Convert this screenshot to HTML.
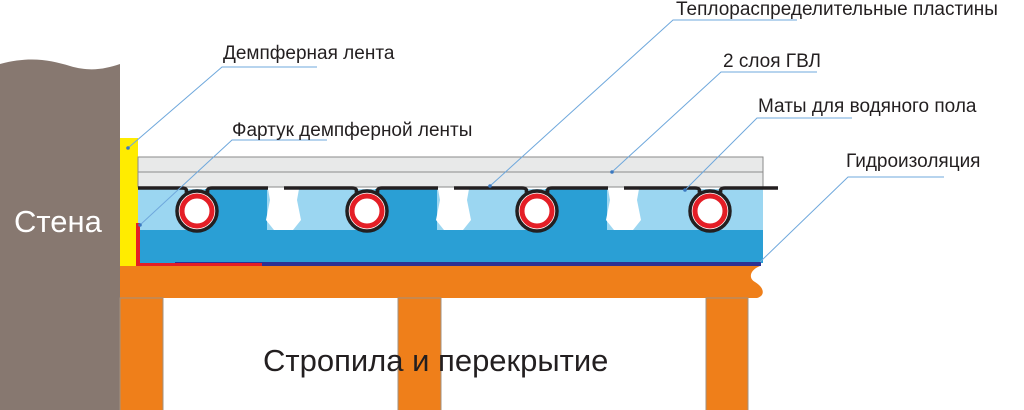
<!DOCTYPE html>
<html><head><meta charset="utf-8"><style>
html,body{margin:0;padding:0;background:#fff;width:1024px;height:410px;overflow:hidden}
svg{display:block}
text{font-family:"Liberation Sans",sans-serif;fill:#231f20}
</style></head><body>
<svg width="1024" height="410" viewBox="0 0 1024 410" xmlns="http://www.w3.org/2000/svg">
<path d="M0,64 C30,56 50,60 70,66 C90,72 105,69 120,64 L120,410 L0,410 Z" fill="#877870"/>
<text x="14" y="232" font-size="31" style="fill:#fff">Стена</text>
<rect x="120" y="138" width="18" height="130" fill="#ffec00"/>
<rect x="138" y="157" width="625" height="30" fill="#e8e9e9" stroke="#8a8a8a" stroke-width="1"/>
<line x1="138" y1="172" x2="763" y2="172" stroke="#8a8a8a" stroke-width="1"/>
<rect x="138" y="189" width="625" height="42" fill="#9bd6f1"/>
<g fill="#2a9fd5">
<rect x="205" y="189" width="62" height="42"/>
<rect x="375" y="189" width="62" height="42"/>
<rect x="545" y="189" width="62" height="42"/>
<rect x="138" y="230" width="625" height="33"/>
</g>
<g fill="#fff">
<path d="M268,189 L299,189 L297,200 L301,220 L293,230 L274,230 L266,220 L270,200 Z"/>
<path d="M438,189 L469,189 L467,200 L471,220 L463,230 L444,230 L436,220 L440,200 Z"/>
<path d="M608,189 L639,189 L637,200 L641,220 L633,230 L614,230 L606,220 L610,200 Z"/>
</g>
<g stroke="#231f20" stroke-width="3.5" fill="none">
<path d="M138,188 L182,188 Q188,188 186,193"/>
<path d="M208,193 Q206,188 212,188 L268,188"/>
<path d="M284,188 L352,188 Q358,188 356,193"/>
<path d="M378,193 Q376,188 382,188 L438,188"/>
<path d="M454,188 L522,188 Q528,188 526,193"/>
<path d="M548,193 Q546,188 552,188 L608,188"/>
<path d="M624,188 L695,188 Q701,188 699,193"/>
<path d="M721,193 Q719,188 725,188 L778,188"/>
</g>
<g>
<circle cx="197" cy="211" r="20" fill="#fff" stroke="#231f20" stroke-width="3.5"/>
<circle cx="197" cy="211" r="15" fill="#fff" stroke="#e41e26" stroke-width="5"/>
<circle cx="367" cy="211" r="20" fill="#fff" stroke="#231f20" stroke-width="3.5"/>
<circle cx="367" cy="211" r="15" fill="#fff" stroke="#e41e26" stroke-width="5"/>
<circle cx="537" cy="211" r="20" fill="#fff" stroke="#231f20" stroke-width="3.5"/>
<circle cx="537" cy="211" r="15" fill="#fff" stroke="#e41e26" stroke-width="5"/>
<circle cx="710" cy="211" r="20" fill="#fff" stroke="#231f20" stroke-width="3.5"/>
<circle cx="710" cy="211" r="15" fill="#fff" stroke="#e41e26" stroke-width="5"/>
</g>
<rect x="175" y="262" width="586" height="4" fill="#2e3192"/>
<path d="M138,223 L138,265 L262,265" stroke="#e41e26" stroke-width="4" fill="none"/>
<path d="M120,266 L760,266 C750,270 748,278 755,282 C765,288 765,296 757,298 L120,298 Z" fill="#ef7f1a"/>
<g fill="#ef7f1a" stroke="#a09080" stroke-width="1">
<rect x="120" y="298" width="43" height="113"/>
<rect x="398" y="298" width="43" height="113"/>
<rect x="706" y="298" width="42" height="113"/>
</g>
<text x="263" y="371" font-size="31">Стропила и перекрытие</text>
<g stroke="#6fa8dc" stroke-width="1" fill="none">
<path d="M797,20 L673,20 L490,186"/>
<path d="M317,67 L222,67 L128,148"/>
<path d="M817,72 L721,72 L612,172"/>
<path d="M852,118 L757,118 L685,190"/>
<path d="M327,140 L232,140 L140,225"/>
<path d="M944,177 L848,177 L760,262"/>
</g>
<g fill="#3a78c0">
<circle cx="490" cy="186" r="1.8"/><circle cx="128" cy="148" r="1.8"/><circle cx="612" cy="172" r="1.8"/>
<circle cx="685" cy="190" r="1.8"/><circle cx="140" cy="225" r="1.8"/>
</g>
<g font-size="19">
<text x="676" y="15">Теплораспределительные пластины</text>
<text x="223" y="59">Демпферная лента</text>
<text x="723" y="67">2 слоя ГВЛ</text>
<text x="758" y="112">Маты для водяного пола</text>
<text x="232" y="136">Фартук демпферной ленты</text>
<text x="846" y="167">Гидроизоляция</text>
</g>
</svg>
</body></html>
